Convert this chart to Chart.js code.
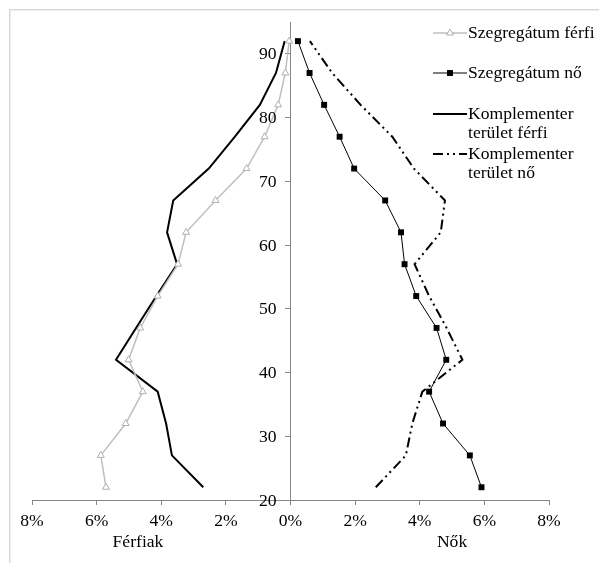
<!DOCTYPE html>
<html><head><meta charset="utf-8">
<script src="https://cdn.jsdelivr.net/npm/chart.js@4/dist/chart.umd.min.js"></script>
<style>html,body{margin:0;padding:0;background:#fff;}canvas{display:block;}</style>
</head><body>
<canvas id="c" width="599" height="563"></canvas>
<script>
const ages = [22,27,32,37,42,47,52,57,62,67,72,77,82,87,92];
const szegFerfi = [5.71,5.87,5.10,4.57,5.01,4.65,4.11,3.48,3.23,2.32,1.36,0.80,0.38,0.16,0.04];
const szegNo    = [5.91,5.55,4.72,4.29,4.82,4.52,3.89,3.53,3.42,2.93,1.97,1.52,1.04,0.59,0.23];
const kompFerfi = [2.70,3.67,3.85,4.11,5.40,4.78,4.15,3.51,3.82,3.63,2.53,1.72,0.95,0.45,0.18];
const kompNo    = [2.64,3.57,3.77,4.08,5.32,4.83,4.29,3.84,4.65,4.78,3.82,3.15,2.17,1.29,0.60];
const xTicks = [-8,-6,-4,-2,0,2,4,6,8];
const yTicks = [20,30,40,50,60,70,80,90];
const seriesNames = ['Szegregátum férfi','Szegregátum nő',['Komplementer','terület férfi'],['Komplementer','terület nő']];
const axisTitles = ['Férfiak','Nők'];

const FONT = "'Liberation Serif', 'Times New Roman', serif";
const FS = 17.6;
const AXIS = '#868686';

function pts(vals, sign){ return vals.map((v,i)=>({x: sign*v, y: ages[i]})); }

const frame = {
  id:'frame',
  beforeDraw(chart){
    const ctx = chart.ctx;
    ctx.save();
    ctx.fillStyle='#fff'; ctx.fillRect(0,0,chart.width,chart.height);
    ctx.strokeStyle='#d9d9d9'; ctx.lineWidth=1.5;
    ctx.beginPath(); ctx.moveTo(9.75, chart.height+5); ctx.lineTo(9.75,9.75); ctx.lineTo(chart.width+5,9.75); ctx.stroke();
    ctx.restore();
  }
};

function drawMarker(ctx, ds, x, y){
  if(!ds.pointRadius) return;
  ctx.save();
  ctx.lineWidth = ds.pointBorderWidth || 1;
  ctx.strokeStyle = ds.pointBorderColor; ctx.fillStyle = ds.pointBackgroundColor;
  const r = ds.pointRadius;
  ctx.beginPath();
  if(ds.pointStyle==='triangle'){
    ctx.moveTo(x, y - r);
    ctx.lineTo(x - r*0.866, y + r*0.5);
    ctx.lineTo(x + r*0.866, y + r*0.5);
    ctx.closePath();
  } else {
    const s = r*Math.SQRT1_2;
    ctx.rect(x-s, y-s, 2*s, 2*s);
  }
  ctx.fill();
  if (ds.pointBorderWidth) ctx.stroke();
  ctx.restore();
}

const legendAndTitles = {
  id:'legendAndTitles',
  afterDraw(chart){
    const ctx = chart.ctx;
    const rows = [33, 73, 114, 154];
    ctx.save();
    ctx.font = FS + 'px ' + FONT;
    ctx.fillStyle = '#000';
    ctx.textBaseline = 'middle';
    chart.data.datasets.forEach((ds, i) => {
      const y = rows[i];
      ctx.save();
      ctx.strokeStyle = ds.borderColor; ctx.lineWidth = ds.borderWidth;
      ctx.setLineDash(ds.borderDash || []);
      ctx.beginPath(); ctx.moveTo(433, y); ctx.lineTo(467, y); ctx.stroke();
      ctx.restore();
      drawMarker(ctx, ds, 450, y);
      const lines = Array.isArray(seriesNames[i]) ? seriesNames[i] : [seriesNames[i]];
      ctx.textAlign = 'left';
      lines.forEach((t, k) => ctx.fillText(t, 468, y + k*19));
    });
    // y tick labels, left of the centred axis
    const ys = chart.scales.y, xs = chart.scales.x;
    const ax = xs.getPixelForValue(0);
    ctx.textAlign = 'right';
    yTicks.forEach(v => ctx.fillText(String(v), ax - 14, ys.getPixelForValue(v) + 1));
    // axis titles
    ctx.textAlign = 'center';
    ctx.fillText(axisTitles[0], xs.getPixelForValue(-4.72), 542);
    ctx.fillText(axisTitles[1], xs.getPixelForValue(5.0), 542);
    ctx.restore();
  }
};

new Chart(document.getElementById('c'), {
  type: 'line',
  data: {
    datasets: [
      { label: 'Szegregátum férfi', data: pts(szegFerfi,-1), borderColor:'#bfbfbf', borderWidth:1.5,
        pointStyle:'triangle', pointRadius:4, pointBorderColor:'#b0b0b0', pointBackgroundColor:'#fff', pointBorderWidth:1 },
      { label: 'Szegregátum nő', data: pts(szegNo,1), borderColor:'#000', borderWidth:1,
        pointStyle:'rect', pointRadius:4.2, pointBorderColor:'#000', pointBackgroundColor:'#000', pointBorderWidth:0 },
      { label: 'Komplementer terület férfi', data: pts(kompFerfi,-1), borderColor:'#000', borderWidth:2, pointRadius:0 },
      { label: 'Komplementer terület nő', data: pts(kompNo,1), borderColor:'#000', borderWidth:2, borderDash:[10,4,2,4,2,4], pointRadius:0 }
    ]
  },
  options: {
    responsive:false, animation:false,
    layout:{ padding:{ left:32, right:50, top:22, bottom:23 } },
    elements:{ line:{ tension:0 } },
    plugins:{ legend:{display:false}, tooltip:{enabled:false} },
    scales:{
      x:{ type:'linear', min:-8, max:8,
        afterBuildTicks(s){ s.ticks = xTicks.map(v=>({value:v})); },
        afterFit(s){ s.height = 40; s.paddingLeft = 0; s.paddingRight = 0; },
        grid:{ display:true, drawOnChartArea:false, drawTicks:true, tickLength:5, color:AXIS, lineWidth:1 },
        border:{ display:true, color:AXIS, width:1 },
        ticks:{ padding:6, color:'#000', font:{ family:FONT, size:FS }, maxRotation:0,
          callback:(v)=> Math.abs(v) + '%' }
      },
      y:{ type:'linear', min:20, max:95, position:{ x:0 },
        afterBuildTicks(s){ s.ticks = yTicks.map(v=>({value:v})); },
        afterFit(s){ s.width = 0; s.paddingTop = 0; s.paddingBottom = 0; },
        grid:{ display:true, drawOnChartArea:false, drawTicks:true, tickLength:5, color:AXIS, lineWidth:1 },
        border:{ display:true, color:AXIS, width:1 },
        ticks:{ display:false, font:{ family:FONT, size:FS } }
      }
    }
  },
  plugins:[frame, legendAndTitles]
});
</script>
</body></html>
